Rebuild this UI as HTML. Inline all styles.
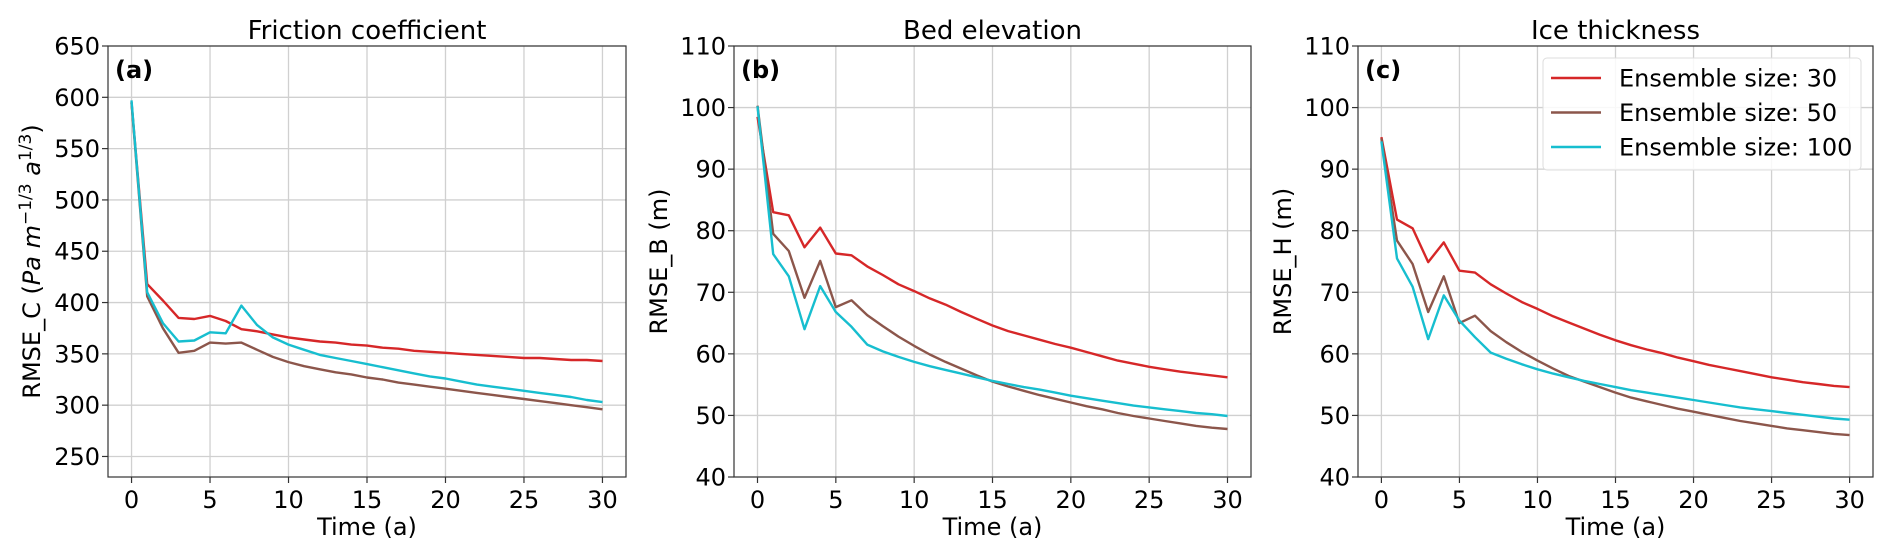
<!DOCTYPE html>
<html><head><meta charset="utf-8"><style>
body{margin:0;background:#fff;}
svg{display:block;font-family:"DejaVu Sans","Liberation Sans",sans-serif;}
</style></head><body>
<svg id="fig" width="1892" height="555" viewBox="0 0 1892 555" xmlns="http://www.w3.org/2000/svg"></svg>
<script>
const years = Array.from({length:31},(_,i)=>i);
const xTicks = [0,5,10,15,20,25,30];
const yTicksA = [250,300,350,400,450,500,550,600,650];
const yTicksBC = [40,50,60,70,80,90,100,110];
const seriesNames = ["Ensemble size: 30","Ensemble size: 50","Ensemble size: 100"];
const seriesColors = ["#d62728","#8c564b","#17becf"];
const frictionRed = [595,418,402,385,384,387,382,374,372,369,366,364,362,361,359,358,356,355,353,352,351,350,349,348,347,346,346,345,344,344,343];
const frictionBrown = [595,406,375,351,353,361,360,361,354,347,342,338,335,332,330,327,325,322,320,318,316,314,312,310,308,306,304,302,300,298,296];
const frictionCyan = [597,410,380,362,363,371,370,397,378,366,359,354,349,346,343,340,337,334,331,328,326,323,320,318,316,314,312,310,308,305,303];
const bedRed = [98.5,83,82.5,77.3,80.5,76.3,76,74.2,72.8,71.3,70.2,69,68,66.8,65.7,64.6,63.7,63,62.3,61.6,61,60.3,59.6,58.9,58.4,57.9,57.5,57.1,56.8,56.5,56.2];
const bedBrown = [100.3,79.5,76.7,69.1,75.1,67.6,68.7,66.3,64.5,62.8,61.3,59.9,58.7,57.6,56.5,55.5,54.7,54,53.3,52.7,52.1,51.5,51,50.4,49.9,49.5,49.1,48.7,48.3,48,47.8];
const bedCyan = [100.2,76.2,72.6,64,71,66.8,64.4,61.5,60.4,59.5,58.7,58,57.4,56.8,56.2,55.6,55.1,54.6,54.2,53.7,53.2,52.8,52.4,52,51.6,51.3,51,50.7,50.4,50.2,49.9];
const iceRed = [95.2,81.8,80.4,74.9,78.1,73.5,73.2,71.3,69.8,68.4,67.3,66.1,65.1,64.1,63.1,62.2,61.4,60.7,60.1,59.4,58.8,58.2,57.7,57.2,56.7,56.2,55.8,55.4,55.1,54.8,54.6];
const iceBrown = [95,78.4,74.6,66.8,72.6,65,66.2,63.7,61.9,60.3,58.9,57.6,56.4,55.5,54.6,53.7,52.9,52.3,51.7,51.1,50.6,50.1,49.6,49.1,48.7,48.3,47.9,47.6,47.3,47,46.8];
const iceCyan = [94.5,75.5,70.9,62.4,69.5,65.4,62.7,60.2,59.2,58.3,57.5,56.8,56.2,55.6,55.1,54.6,54.1,53.7,53.3,52.9,52.5,52.1,51.7,51.3,51,50.7,50.4,50.1,49.8,49.5,49.3];

const NS="http://www.w3.org/2000/svg";
const svg=document.getElementById('fig');
function mk(tag,attrs,parent,text){const e=document.createElementNS(NS,tag);for(const k in attrs)e.setAttribute(k,attrs[k]);if(text!==undefined)e.textContent=text;(parent||svg).appendChild(e);return e;}

const panels=[
 {id:'friction',letter:'(a)',title:'Friction coefficient',ylabel:'RMSE_C',ymin:230,ymax:650,ticks:yTicksA,left:108,right:626,ylabX:40,data:[frictionRed,frictionBrown,frictionCyan]},
 {id:'bed',letter:'(b)',title:'Bed elevation',ylabel:'RMSE_B (m)',ymin:40,ymax:110,ticks:yTicksBC,left:734,right:1251,ylabX:667,data:[bedRed,bedBrown,bedCyan]},
 {id:'ice',letter:'(c)',title:'Ice thickness',ylabel:'RMSE_H (m)',ymin:40,ymax:110,ticks:yTicksBC,left:1358,right:1873,ylabX:1291,data:[iceRed,iceBrown,iceCyan]}
];
const plotTop=46,plotBottom=477;
panels.forEach((p,pi)=>{
  const g=mk('g',{});
  
  
  const w=p.right-p.left;
  const xs=v=>p.left+(v+1.5)/33*w;
  const ys=v=>plotBottom-(v-p.ymin)/(p.ymax-p.ymin)*(plotBottom-plotTop);
  xTicks.forEach(t=>{
    const l=mk('line',{x1:xs(t),x2:xs(t),y1:plotTop,y2:plotBottom,stroke:'#d0d0d0','stroke-width':1.3},g);
    
    
    const tk=mk('line',{x1:xs(t),x2:xs(t),y1:plotBottom,y2:plotBottom+6,stroke:'#333','stroke-width':1.2},g);
    
    
    const tx=mk('text',{x:xs(t),y:plotBottom+31,'font-size':24,'text-anchor':'middle',fill:'#000'},g,String(t));
    
    
  });
  p.ticks.forEach(t=>{
    const l=mk('line',{x1:p.left,x2:p.right,y1:ys(t),y2:ys(t),stroke:'#d0d0d0','stroke-width':1.3},g);
    
    
    const tk=mk('line',{x1:p.left-6,x2:p.left,y1:ys(t),y2:ys(t),stroke:'#333','stroke-width':1.2},g);
    
    
    const tx=mk('text',{x:p.left-8,y:ys(t)+8.5,'font-size':24,'text-anchor':'end',fill:'#000'},g,String(t));
    
    
  });
  p.data.forEach((arr,si)=>{
    const d=arr.map((v,i)=>(i?'L':'M')+xs(years[i]).toFixed(1)+','+ys(v).toFixed(1)).join(' ');
    const path=mk('path',{d:d,fill:'none',stroke:seriesColors[si],'stroke-width':2.4,'stroke-linejoin':'round'},g);
    
    
  });
  const fr=mk('rect',{x:p.left,y:plotTop,width:w,height:plotBottom-plotTop,fill:'none',stroke:'#333','stroke-width':1.2},g);
  
  
  const tt=mk('text',{x:p.left+w/2,y:39,'font-size':26,'text-anchor':'middle'},g,p.title);
  
  
  const lt=mk('text',{x:p.left+7,y:78,'font-size':24,'font-weight':'bold'},g,p.letter);
  
  
  const xl=mk('text',{x:p.left+w/2,y:535,'font-size':24,'text-anchor':'middle'},g,'Time (a)');
  
  
  const yc=(plotTop+plotBottom)/2;
  const yl=mk('text',{x:p.ylabX,y:yc,'font-size':24,'text-anchor':'middle',transform:'rotate(-90 '+p.ylabX+' '+yc+')'},g);
  
  
  if(pi===0){
    yl.innerHTML='RMSE_C (<tspan font-style="italic">Pa m</tspan><tspan dy="-9" font-size="17">−1/3</tspan><tspan dy="9"> </tspan><tspan font-style="italic">a</tspan><tspan dy="-9" font-size="17">1/3</tspan><tspan dy="9">)</tspan>';
  } else yl.textContent=p.ylabel;
});
const lg=mk('g',{});


const lb=mk('rect',{x:1543,y:58,width:318,height:112,rx:4,fill:'#fff','fill-opacity':0.85,stroke:'#ddd','stroke-width':1},lg);


seriesNames.forEach((n,i)=>{
  const y=78+i*34.5;
  const l=mk('line',{x1:1551,x2:1601,y1:y,y2:y,stroke:seriesColors[i],'stroke-width':2.4},lg);
  
  
  const t=mk('text',{x:1619,y:y+8.5,'font-size':24},lg,n);
  
  
});
</script>
</body></html>
